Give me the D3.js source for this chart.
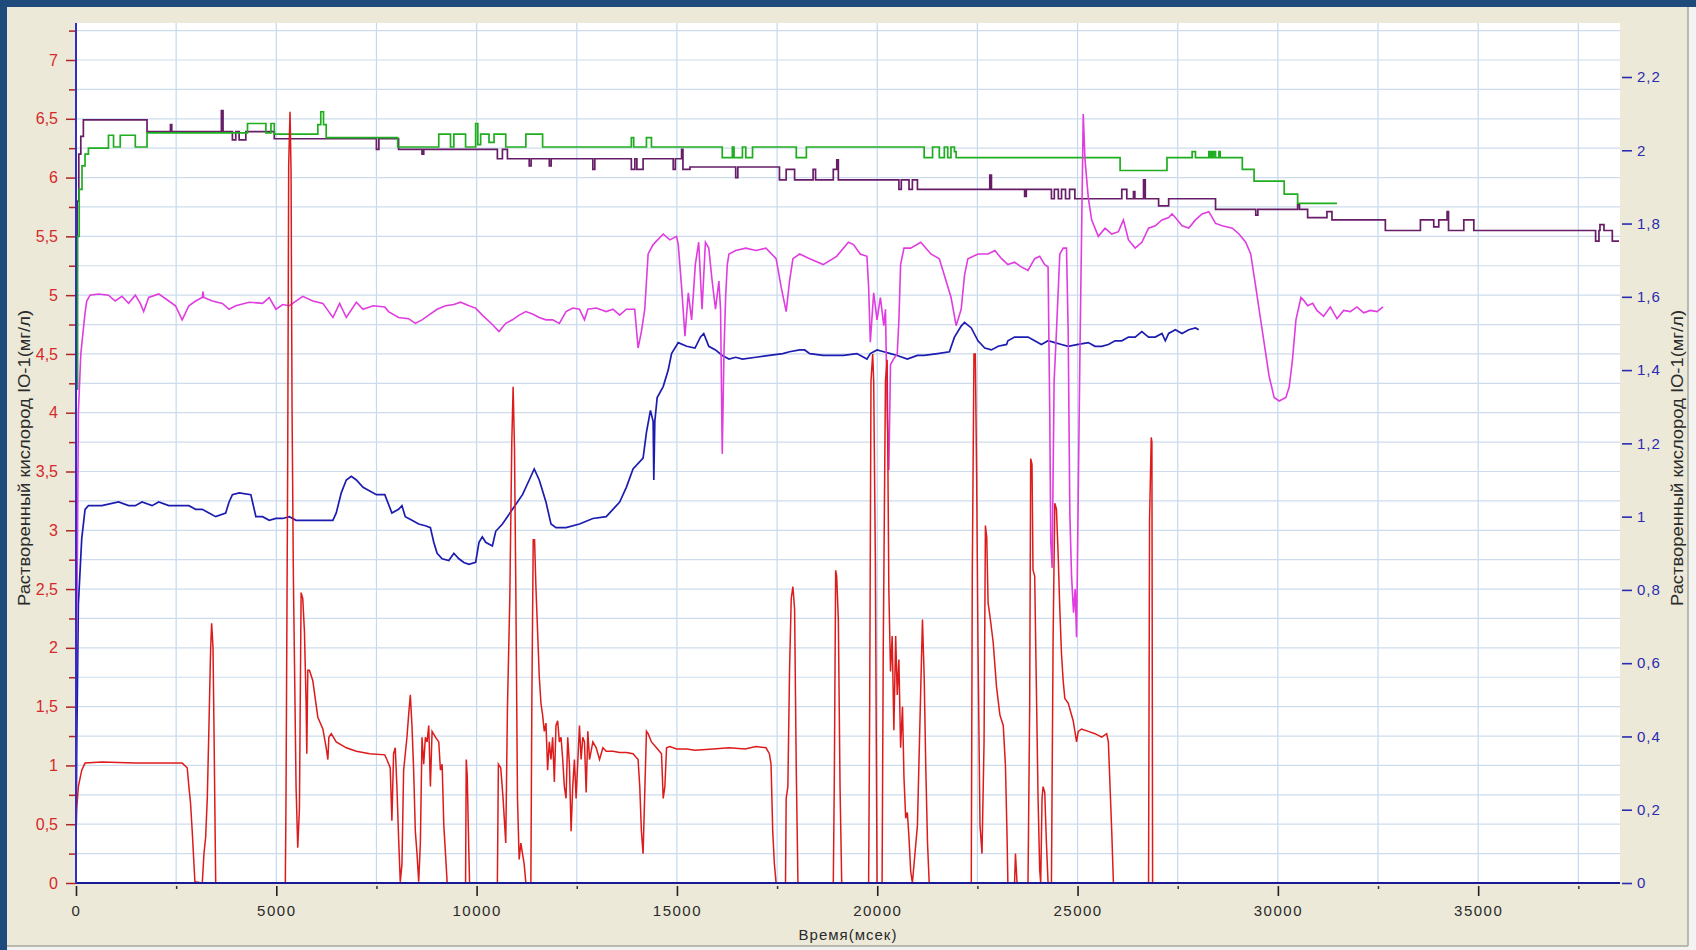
<!DOCTYPE html>
<html><head><meta charset="utf-8">
<script src="https://cdn.jsdelivr.net/npm/d3@7"></script>
<style>html,body{margin:0;padding:0;background:#1f4a7c;overflow:hidden}svg{display:block}</style>
</head><body>
<svg id="c" width="1696" height="950"></svg>
<script>
// ---------- tick values & labels ----------
const xTickValues = [0,5000,10000,15000,20000,25000,30000,35000];
const xTickLabels = ["0","5000","10000","15000","20000","25000","30000","35000"];
const leftTickValues = [0,0.5,1,1.5,2,2.5,3,3.5,4,4.5,5,5.5,6,6.5,7];
const leftTickLabels = ["0","0,5","1","1,5","2","2,5","3","3,5","4","4,5","5","5,5","6","6,5","7"];
const rightTickValues = [0,0.2,0.4,0.6,0.8,1,1.2,1.4,1.6,1.8,2,2.2];
const rightTickLabels = ["0","0,2","0,4","0,6","0,8","1","1,2","1,4","1,6","1,8","2","2,2"];
const xTitle = "Время(мсек)";
const yTitle = "Растворенный кислород ІО-1(мг/л)";

// ---------- series: [time ms, value] ----------
const redData = [[0,0.39],[17,0.63],[59,0.82],[143,0.96],[226,1.02],[644,1.03],[1480,1.02],[2316,1.02],[2650,1.02],[2776,0.98],[2818,0.82],[2859,0.68],[2901,0.44],[2968,0.01],[3152,0],[3194,0.25],[3236,0.39],[3277,0.72],[3319,1.34],[3361,2.0],[3386,2.21],[3420,2.0],[3445,1.29],[3487,0],
[5225,0],[5242,0.72],[5284,3.56],[5309,6.11],[5342,6.56],[5368,6.06],[5393,4.03],[5426,2.61],[5493,0.82],[5535,0.30],[5577,0.63],[5619,2.47],[5660,2.42],[5702,2.14],[5744,1.53],[5761,1.10],[5786,1.81],[5827,1.81],[5911,1.72],[6036,1.41],[6162,1.31],[6245,1.15],[6287,1.05],[6312,1.24],[6371,1.27],[6496,1.20],[6747,1.15],[6998,1.12],[7332,1.10],[7708,1.09],
[7760,1.05],[7843,0.98],[7885,0.53],[7927,1.10],[7969,1.15],[8010,0.82],[8052,0.39],[8094,0.01],[8136,0.16],[8178,0.96],[8261,1.24],[8303,1.43],[8345,1.60],[8386,1.34],[8428,0.96],[8470,0.44],[8512,0.25],[8554,0.01],[8596,0.34],[8637,1.24],[8679,1.01],[8721,1.24],[8763,1.20],[8805,1.34],[8846,0.82],[8888,1.29],[8972,1.24],[9055,1.20],[9097,0.96],[9139,1.01],[9181,0.49],[9223,0.25],[9265,0],
[9724,0],[9741,1.05],[9766,0.91],[9791,0.49],[9824,0],
[10518,0],[10543,1.01],[10602,0.98],[10660,0.72],[10727,0.34],[10769,1.48],[10828,2.42],[10878,3.75],[10911,4.22],[10945,3.70],[10978,2.52],[11020,0.72],[11062,0.20],[11104,0.34],[11145,0.25],[11187,0.16],[11229,0],
[11354,0],[11379,1.57],[11413,2.92],[11446,2.92],[11480,2.52],[11522,2.14],[11563,1.76],[11605,1.53],[11647,1.43],[11689,1.29],[11731,1.36],[11772,0.96],[11814,1.20],[11856,1.05],[11898,1.24],[11940,0.86],[11981,1.34],[12023,1.38],[12065,1.20],[12107,1.24],[12149,1.05],[12190,0.82],[12232,0.72],[12274,1.24],[12316,1.01],[12358,0.44],[12399,0.82],[12441,1.05],[12483,0.72],[12567,1.34],[12608,1.05],[12650,1.24],[12692,1.20],[12734,0.77],[12776,1.29],[12818,1.05],[12901,1.20],[12985,1.15],[13068,1.05],[13152,1.15],[13235,1.12],[13403,1.12],[13570,1.11],[13737,1.11],[13904,1.10],[14030,1.05],[14072,0.82],[14113,0.44],[14155,0.25],[14197,0.77],[14239,1.29],[14281,1.27],[14364,1.20],[14490,1.15],[14615,1.10],[14657,0.72],[14699,0.82],[14741,1.15],[14824,1.16],[14991,1.14],[15242,1.14],[15451,1.13],
[15900,1.14],[16300,1.15],[16700,1.14],[16971,1.16],[17223,1.15],[17307,1.10],[17349,1.01],[17391,0.44],[17433,0.16],[17475,0],
[17710,0],[17727,0.72],[17769,0.82],[17811,1.81],[17853,2.42],[17895,2.52],[17937,2.33],[17979,0.96],[18021,0],
[18903,0],[18928,0.86],[18962,2.66],[18987,2.61],[19029,2.24],[19071,0.82],[19113,0],
[19785,0],[19810,1.43],[19844,4.27],[19886,4.50],[19911,4.27],[19953,2.75],[19995,0],[20121,0],[20150,2.0],[20205,4.27],[20247,4.45],[20289,2.5],[20331,1.8],[20373,2.1],[20415,1.3],[20460,2.1],[20499,1.6],[20540,1.9],[20583,1.15],[20630,1.5],[20667,0.9],[20710,0.55],[20751,0.6],[20790,0.4],[20835,0.1],[20877,0],[21003,0.49],[21087,1.67],[21129,2.24],[21171,1.76],[21213,0.96],[21255,0.34],[21297,0],
[22347,0],[22372,2.61],[22414,4.50],[22448,4.50],[22481,3.46],[22515,2.0],[22565,0.49],[22615,0.25],[22666,1.20],[22700,3.04],[22733,2.94],[22767,2.38],[22809,2.28],[22893,2.05],[22977,1.67],[23061,1.43],[23145,1.34],[23200,1.0],[23240,0.4],[23261,0],
[23428,0],[23450,0.25],[23490,0],[23763,0],[23805,1.5],[23830,3.61],[23863,3.56],[23888,2.66],[23930,2.61],[23972,1.67],[24014,0.72],[24055,0.11],[24080,0],[24114,0.72],[24139,0.82],[24181,0.77],[24223,0.34],[24264,0],[24348,0],[24390,2.09],[24432,3.23],[24473,3.18],[24515,2.80],[24557,2.33],[24599,1.95],[24641,1.72],[24682,1.57],[24766,1.53],[24891,1.38],[24975,1.20],[25017,1.29],[25100,1.31],[25268,1.29],[25435,1.27],[25602,1.24],[25727,1.27],[25769,1.20],[25811,0.82],[25853,0.44],[25895,0],
[26772,0],[26797,3.09],[26839,3.79],[26856,3.75],[26873,0],[26900,0]];

const greenData = [[0,4.2],[40,5.5],[80,5.9],[150,6.1],[226,6.2],[310,6.25],[811,6.36],[937,6.26],[1104,6.36],[1480,6.26],[1773,6.38],[4281,6.46],[4740,6.38],[4866,6.46],[4950,6.37],[6036,6.45],[6110,6.56],[6178,6.45],[6245,6.34],[8030,6.26],[9055,6.37],[9348,6.26],[9432,6.37],[9724,6.26],[9975,6.46],[10030,6.28],[10100,6.37],[10309,6.30],[10435,6.37],[10727,6.26],[11229,6.37],[11647,6.26],[13862,6.34],[13920,6.26],[14239,6.34],[14364,6.26],[16131,6.17],[16383,6.26],[16425,6.17],[16635,6.26],[16719,6.17],[16887,6.26],[17979,6.17],[18231,6.26],[21171,6.17],[21381,6.26],[21549,6.17],[21675,6.26],[21759,6.17],[21840,6.26],[21927,6.22],[21969,6.17],[26062,6.06],[27232,6.17],[27860,6.22],[27943,6.17],[28277,6.22],[28300,6.17],[28330,6.22],[28360,6.17],[28400,6.22],[28444,6.17],[28528,6.22],[28560,6.17],[29113,6.07],[29406,5.97],[30158,5.86],[30493,5.78],[31475,5.78]];

const purpleData = [[0,5.2],[30,5.8],[70,6.2],[120,6.35],[184,6.49],[1773,6.39],[2358,6.45],[2390,6.39],[3629,6.57],[3670,6.39],[3904,6.32],[3988,6.39],[4072,6.32],[4239,6.39],[4950,6.33],[7499,6.24],[7560,6.33],[8052,6.24],[8637,6.20],[8680,6.24],[10518,6.16],[10644,6.24],[10769,6.16],[11313,6.10],[11360,6.16],[11814,6.10],[11860,6.16],[12901,6.07],[12950,6.16],[13862,6.07],[13950,6.16],[14000,6.07],[14155,6.16],[14907,6.07],[14960,6.16],[15116,6.24],[15150,6.07],[15325,6.09],[16467,6.0],[16520,6.09],[17559,5.98],[17727,6.07],[17937,5.98],[18399,6.07],[18460,5.98],[18903,6.07],[18990,6.15],[19029,5.98],[20541,5.90],[20600,5.98],[20793,5.90],[20877,5.98],[21003,5.90],[22809,6.02],[22850,5.90],[23679,5.84],[23720,5.90],[24348,5.82],[24420,5.90],[24520,5.82],[24600,5.90],[24700,5.82],[24800,5.90],[24933,5.82],[26104,5.90],[26229,5.82],[26396,5.88],[26430,5.82],[26647,5.98],[26690,5.82],[27023,5.76],[27274,5.82],[28444,5.73],[29448,5.68],[29500,5.73],[30493,5.77],[30540,5.73],[30743,5.66],[31225,5.71],[31350,5.64],[32683,5.55],[33558,5.64],[33891,5.58],[34016,5.64],[34224,5.71],[34260,5.55],[34641,5.64],[34891,5.55],[37931,5.46],[38015,5.55],[38040,5.60],[38140,5.55],[38348,5.46],[38515,5.46]];

const magentaData = [[0,1.5],[40,3.0],[59,4.0],[120,4.5],[226,4.85],[268,4.95],[351,5.0],[560,5.01],[811,5.0],[979,4.95],[1146,4.99],[1313,4.93],[1480,5.0],[1605,4.93],[1689,4.86],[1814,4.98],[2065,5.01],[2316,4.95],[2483,4.91],[2650,4.79],[2818,4.91],[2985,4.95],[3152,4.98],[3170,5.03],[3190,4.98],[3403,4.95],[3654,4.93],[3821,4.88],[3988,4.91],[4322,4.94],[4657,4.93],[4824,4.98],[4991,4.88],[5158,4.92],[5326,4.91],[5660,4.99],[5911,4.95],[6162,4.93],[6413,4.81],[6580,4.93],[6747,4.81],[6998,4.94],[7165,4.88],[7416,4.91],[7708,4.90],
[7801,4.86],[8052,4.81],[8303,4.80],[8470,4.76],[8637,4.79],[8805,4.83],[9014,4.88],[9223,4.91],[9432,4.92],[9599,4.94],[9808,4.91],[9975,4.89],[10142,4.83],[10393,4.75],[10560,4.69],[10727,4.76],[10895,4.79],[11062,4.83],[11229,4.86],[11396,4.84],[11563,4.81],[11731,4.79],[11898,4.79],[12065,4.76],[12232,4.86],[12399,4.89],[12567,4.88],[12692,4.79],[12776,4.88],[12985,4.89],[13235,4.86],[13403,4.88],[13570,4.83],[13737,4.88],[13946,4.88],[14030,4.55],[14113,4.69],[14197,4.88],[14281,5.35],[14406,5.43],[14657,5.52],[14824,5.47],[14991,5.50],[15033,5.43],[15116,5.07],[15200,4.65],[15284,5.02],[15367,4.79],[15459,5.26],[15543,5.45],[15627,4.88],[15711,5.45],[15795,5.40],[15879,5.12],[15963,4.88],[16047,5.12],[16089,4.88],[16131,3.65],[16173,4.50],[16215,4.98],[16257,5.26],[16299,5.35],[16467,5.38],[16719,5.40],[16971,5.38],[17223,5.40],[17475,5.31],[17601,5.07],[17727,4.86],[17811,5.12],[17895,5.31],[18063,5.35],[18315,5.31],[18651,5.26],[18987,5.33],[19281,5.45],[19407,5.43],[19575,5.35],[19743,5.33],[19785,5.07],[19827,4.60],[19911,5.02],[19995,4.79],[20079,4.98],[20163,4.74],[20205,4.88],[20247,4.03],[20289,3.51],[20331,4.41],[20415,4.46],[20499,4.50],[20541,4.79],[20583,5.26],[20667,5.40],[20835,5.40],[21087,5.45],[21339,5.35],[21549,5.31],[21675,5.17],[21843,4.98],[21969,4.74],[22095,4.88],[22179,5.17],[22263,5.31],[22515,5.35],[22767,5.35],[22935,5.38],[23103,5.31],[23261,5.26],[23428,5.28],[23596,5.24],[23763,5.21],[23930,5.31],[24055,5.33],[24181,5.26],[24264,5.24],[24306,4.0],[24331,2.90],[24365,2.68],[24415,4.27],[24473,4.69],[24557,5.35],[24641,5.40],[24724,5.40],[24766,4.69],[24808,3.13],[24850,2.61],[24900,2.3],[24940,2.5],[24975,2.09],[25059,4.5],[25142,6.54],[25184,6.16],[25268,5.83],[25351,5.64],[25518,5.50],[25686,5.57],[25853,5.52],[26020,5.54],[26145,5.64],[26271,5.47],[26438,5.40],[26605,5.45],[26772,5.57],[26940,5.59],[27107,5.64],[27274,5.66],[27358,5.69],[27441,5.66],[27608,5.59],[27776,5.57],[27943,5.64],[28110,5.69],[28277,5.71],[28444,5.61],[28612,5.59],[28862,5.57],[29030,5.52],[29197,5.45],[29322,5.35],[29448,5.07],[29531,4.88],[29698,4.50],[29782,4.31],[29907,4.13],[30033,4.10],[30200,4.13],[30284,4.22],[30367,4.46],[30451,4.79],[30576,4.98],[30660,4.95],[30743,4.91],[30869,4.93],[30975,4.87],[31142,4.82],[31309,4.90],[31475,4.80],[31642,4.87],[31809,4.86],[31975,4.90],[32142,4.85],[32308,4.87],[32475,4.86],[32625,4.90]];

// blue series is read on the right axis
const blueData = [[0,0.10],[20,0.39],[59,0.76],[143,0.94],[226,1.02],[310,1.03],[644,1.03],[1062,1.04],[1313,1.03],[1480,1.03],[1647,1.04],[1898,1.03],[2065,1.04],[2316,1.03],[2567,1.03],[2818,1.03],[2985,1.02],[3152,1.02],[3319,1.01],[3487,1.00],[3737,1.01],[3821,1.04],[3904,1.06],[4072,1.065],[4364,1.06],[4406,1.04],[4490,1.00],[4657,1.00],[4824,0.99],[4991,0.995],[5158,0.995],[5326,1.00],[5493,0.99],[5660,0.99],[5827,0.99],[6412,0.99],[6496,1.01],[6621,1.065],[6747,1.10],[6872,1.11],[6998,1.10],[7165,1.08],[7332,1.07],[7499,1.06],[7708,1.06],
[7885,1.01],[8052,1.02],[8136,1.03],[8219,1.00],[8386,0.99],[8554,0.98],[8721,0.975],[8846,0.97],[8930,0.93],[9014,0.90],[9139,0.885],[9306,0.88],[9432,0.90],[9557,0.885],[9683,0.875],[9808,0.87],[9975,0.875],[10059,0.93],[10142,0.945],[10226,0.93],[10393,0.92],[10477,0.96],[10644,0.98],[10895,1.02],[11145,1.06],[11313,1.10],[11438,1.13],[11563,1.10],[11731,1.04],[11856,0.98],[11981,0.97],[12232,0.97],[12567,0.98],[12901,0.995],[13235,1.00],[13403,1.02],[13570,1.04],[13737,1.08],[13904,1.13],[14155,1.16],[14239,1.23],[14339,1.29],[14406,1.26],[14423,1.10],[14448,1.26],[14507,1.325],[14657,1.355],[14782,1.40],[14866,1.445],[15033,1.475],[15242,1.465],[15451,1.46],
[15585,1.49],[15669,1.50],[15795,1.465],[15963,1.455],[16131,1.44],[16299,1.43],[16467,1.435],[16635,1.43],[16971,1.435],[17307,1.44],[17643,1.445],[17811,1.45],[18063,1.455],[18189,1.455],[18315,1.445],[18651,1.44],[18903,1.44],[19155,1.44],[19491,1.445],[19743,1.43],[19827,1.445],[19995,1.455],[20163,1.45],[20331,1.445],[20499,1.44],[20751,1.43],[21003,1.44],[21171,1.44],[21507,1.445],[21801,1.45],[21927,1.49],[22095,1.52],[22179,1.53],[22347,1.515],[22515,1.48],[22683,1.46],[22851,1.455],[23019,1.465],[23229,1.47],
[23261,1.48],[23428,1.49],[23596,1.49],[23763,1.49],[23930,1.48],[24097,1.47],[24264,1.48],[24432,1.475],[24599,1.47],[24766,1.465],[25017,1.47],[25268,1.475],[25435,1.465],[25602,1.465],[25769,1.47],[25936,1.48],[26104,1.48],[26271,1.49],[26438,1.49],[26605,1.505],[26772,1.49],[26940,1.49],[27107,1.50],[27190,1.48],[27274,1.50],[27441,1.51],[27608,1.50],[27776,1.51],[27943,1.515],[28026,1.51]];

// ---------- layout ----------
const W = 1696, H = 950;
const P = {left: 76, right: 1620, top: 23, bottom: 883};
const x = d3.scaleLinear().domain([0, 38540]).range([P.left, P.right]);
const yL = d3.scaleLinear().domain([0, 7]).range([P.bottom, 60]);
const yR = d3.scaleLinear().domain([0, 2.2]).range([P.bottom, 77]);
const FONT = "'Liberation Sans', Arial, sans-serif";

const svg = d3.select('#c');
svg.append('rect').attr('width', W).attr('height', H).attr('fill', '#1f4a7c');
svg.append('rect').attr('x', 1688).attr('y', 7).attr('width', 8).attr('height', 943).attr('fill', '#f3f3f1');
svg.append('rect').attr('x', 7).attr('y', 946).attr('width', 1689).attr('height', 4).attr('fill', '#f3f3f1');
svg.append('rect').attr('x', 7).attr('y', 7).attr('width', 1681).attr('height', 939).attr('fill', '#ece9d8');
svg.append('line').attr('x1', 1688).attr('x2', 1688).attr('y1', 7).attr('y2', 946).attr('stroke', '#a8a89c').attr('stroke-width', 1.5);
svg.append('line').attr('x1', 7).attr('x2', 1688).attr('y1', 946).attr('y2', 946).attr('stroke', '#a8a89c').attr('stroke-width', 1.5);
svg.append('rect').attr('x', P.left).attr('y', P.top).attr('width', P.right - P.left).attr('height', P.bottom - P.top).attr('fill', '#ffffff');

// grid
const xGrid = d3.range(2500, 38541, 2500);
const yGrid = d3.range(0.25, 7.3, 0.25);
const g = svg.append('g');
g.selectAll('.gx').data(xGrid).join('line')
  .attr('x1', d => x(d)).attr('x2', d => x(d)).attr('y1', P.top).attr('y2', P.bottom)
  .attr('stroke', '#c3d9ee').attr('stroke-width', 1.2);
g.selectAll('.gy').data(yGrid).join('line')
  .attr('x1', P.left).attr('x2', P.right).attr('y1', d => yL(d)).attr('y2', d => yL(d))
  .attr('stroke', '#cddcec').attr('stroke-width', 1.2);

// clip
svg.append('clipPath').attr('id', 'clip').append('rect')
  .attr('x', P.left).attr('y', P.top).attr('width', P.right - P.left).attr('height', P.bottom - P.top + 1);
const plot = svg.append('g').attr('clip-path', 'url(#clip)');

const lineLeft = d3.line().x(d => x(d[0])).y(d => yL(d[1]));
const stepLeft = d3.line().curve(d3.curveStepAfter).x(d => x(d[0])).y(d => yL(d[1]));
const lineRight = d3.line().x(d => x(d[0])).y(d => yR(d[1]));

function draw(path, data, color, w) {
  plot.append('path').datum(data).attr('d', path).attr('fill', 'none')
    .attr('stroke', color).attr('stroke-width', w).attr('stroke-linejoin', 'miter');
}
draw(lineRight, blueData, '#1c1cb0', 1.7);
draw(stepLeft, purpleData, '#671d67', 1.7);
draw(stepLeft, greenData, '#1fae1f', 1.7);
draw(lineLeft, magentaData, '#e03ce0', 1.6);
draw(lineLeft, redData, '#dd1b1b', 1.5);

// ---------- axes ----------
const fmtL = d => leftTickLabels[leftTickValues.indexOf(d)];
const fmtR = d => rightTickLabels[rightTickValues.indexOf(d)];
const fmtX = d => xTickLabels[xTickValues.indexOf(d)];

// left minor
const leftMinor = svg.append('g').attr('transform', `translate(${P.left},0)`)
  .call(d3.axisLeft(yL).tickValues(d3.range(0.25, 7.3, 0.5)).tickSize(7).tickFormat(''));
leftMinor.select('.domain').remove();
leftMinor.selectAll('line').attr('stroke', '#b02424').attr('stroke-width', 1.5);
// left major
const leftAx = svg.append('g').attr('transform', `translate(${P.left},0)`)
  .call(d3.axisLeft(yL).tickValues(leftTickValues).tickSize(10).tickPadding(8).tickFormat(fmtL));
leftAx.select('.domain').remove();
leftAx.selectAll('line').attr('stroke', '#b02424').attr('stroke-width', 1.5);
leftAx.selectAll('text').attr('fill', '#d42a2a').style('font-family', FONT).style('font-size', '16px');

// right
const rightAx = svg.append('g').attr('transform', `translate(${P.right + 2},0)`)
  .call(d3.axisRight(yR).tickValues(rightTickValues).tickSize(10).tickPadding(5).tickFormat(fmtR));
rightAx.select('.domain').remove();
rightAx.selectAll('line').attr('stroke', '#2b2bb0').attr('stroke-width', 1.6);
rightAx.selectAll('text').attr('fill', '#2b2bb0').style('font-family', FONT).style('font-size', '15px').style('letter-spacing', '1px');

// bottom
const botMinor = svg.append('g').attr('transform', `translate(0,${P.bottom + 3})`)
  .call(d3.axisBottom(x).tickValues(d3.range(2500, 38541, 5000)).tickSize(3).tickFormat(''));
botMinor.select('.domain').remove();
botMinor.selectAll('line').attr('stroke', '#333').attr('stroke-width', 1.5);
const botAx = svg.append('g').attr('transform', `translate(0,${P.bottom + 3})`)
  .call(d3.axisBottom(x).tickValues(xTickValues).tickSize(10).tickPadding(9).tickFormat(fmtX));
botAx.select('.domain').remove();
botAx.selectAll('line').attr('stroke', '#222').attr('stroke-width', 1.6);
botAx.selectAll('text').attr('fill', '#2a2a2a').style('font-family', FONT).style('font-size', '15px').style('letter-spacing', '1.5px');

// axis lines
svg.append('line').attr('x1', P.left).attr('x2', P.right).attr('y1', P.bottom).attr('y2', P.bottom)
  .attr('stroke', '#1a1a96').attr('stroke-width', 2);
svg.append('line').attr('x1', P.left).attr('x2', P.left).attr('y1', P.top).attr('y2', P.bottom)
  .attr('stroke', '#2f2fc4').attr('stroke-width', 2);

// titles
svg.append('text').attr('x', (P.left + P.right) / 2).attr('y', 940).attr('text-anchor', 'middle')
  .attr('fill', '#2a2a2a').style('font-family', FONT).style('font-size', '15px').style('letter-spacing', '1px')
  .text(xTitle);
[24, 1677].forEach(cx => {
  svg.append('text').attr('transform', `translate(${cx},458) rotate(-90)`)
    .attr('text-anchor', 'middle').attr('dominant-baseline', 'central')
    .attr('textLength', 296).attr('lengthAdjust', 'spacingAndGlyphs')
    .attr('fill', '#2a2a2a').style('font-family', FONT).style('font-size', '16px')
    .text(yTitle);
});
</script>
</body></html>
